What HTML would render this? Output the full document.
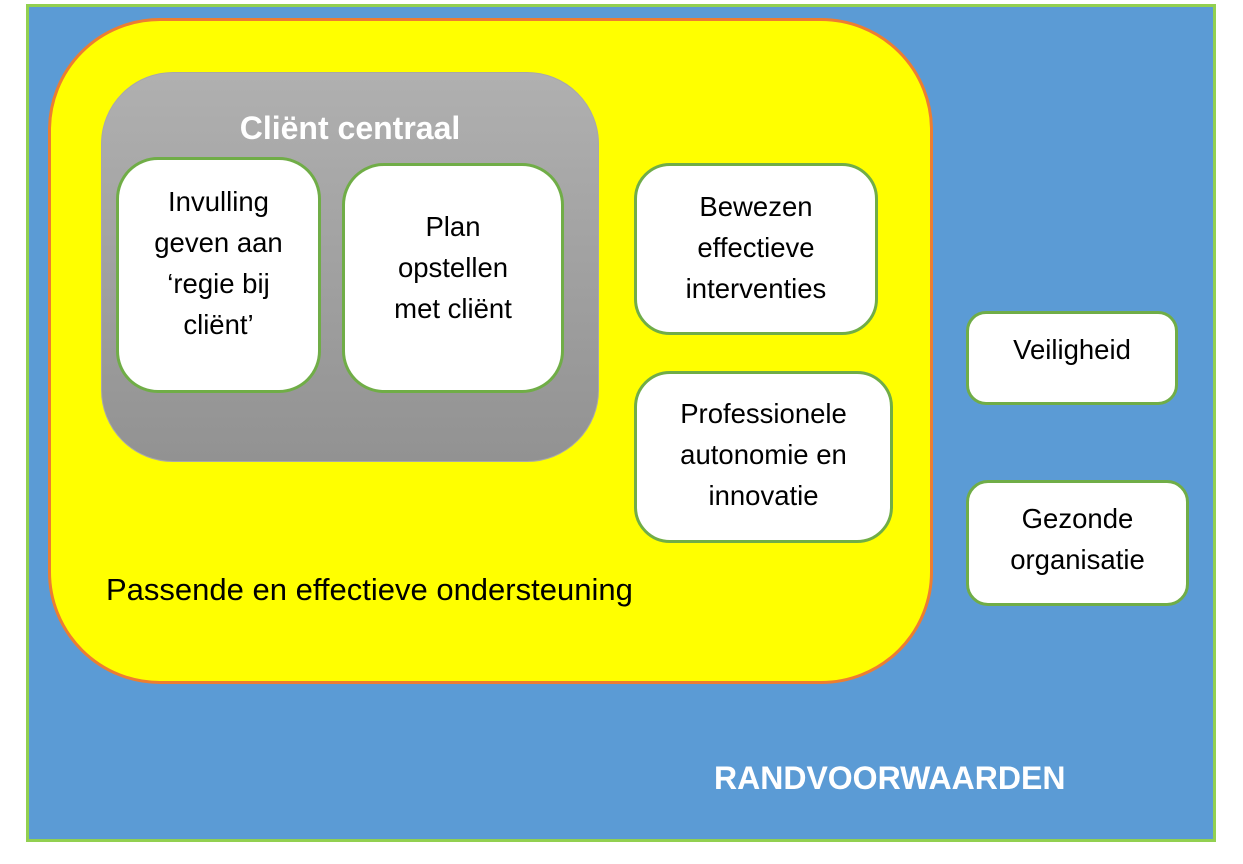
<!DOCTYPE html>
<html><head><meta charset="utf-8"><style>
body{margin:0;width:1243px;height:864px;background:#fff;position:relative;overflow:hidden;font-family:"Liberation Sans",sans-serif}
div{position:absolute;box-sizing:border-box}
.b{background:#fff;border:3px solid #70ad47;display:flex;align-items:center;justify-content:center;text-align:center;font-size:27.5px;line-height:41px;color:#000}
</style></head><body>
<div style="left:26px;top:4px;width:1190px;height:838px;background:#5b9bd5;border:3px solid #92d050"></div>
<div style="left:48px;top:18px;width:885px;height:666px;background:#ffff00;border:3px solid #ed7d31;border-radius:112px"></div>
<div style="left:101px;top:72px;width:498px;height:390px;background:linear-gradient(#b0b0b0,#929292);border:1px solid #a8a8a8;border-radius:72px"></div>
<div style="left:101px;top:109px;width:498px;text-align:center;color:#fff;font-weight:bold;font-size:32px;line-height:38px">Cliënt centraal</div>
<div class="b" style="left:116px;top:157px;width:205px;height:236px;border-radius:42px;padding-bottom:24px">Invulling<br>geven aan<br>‘regie bij<br>cliënt’</div>
<div class="b" style="left:342px;top:163px;width:222px;height:230px;border-radius:42px;padding-bottom:22px">Plan<br>opstellen<br>met cliënt</div>
<div class="b" style="left:634px;top:163px;width:244px;height:172px;border-radius:36px;padding-bottom:4px">Bewezen<br>effectieve<br>interventies</div>
<div class="b" style="left:634px;top:371px;width:259px;height:172px;border-radius:36px;padding-bottom:6px">Professionele<br>autonomie en<br>innovatie</div>
<div class="b" style="left:966px;top:311px;width:212px;height:94px;border-radius:20px;padding-bottom:18px">Veiligheid</div>
<div class="b" style="left:966px;top:480px;width:223px;height:126px;border-radius:22px;padding-bottom:8px">Gezonde<br>organisatie</div>
<div style="left:106px;top:571px;font-size:31px;line-height:38px;color:#000">Passende en effectieve ondersteuning</div>
<div style="left:714px;top:759px;font-size:32px;line-height:38px;font-weight:bold;color:#fff">RANDVOORWAARDEN</div>
</body></html>
